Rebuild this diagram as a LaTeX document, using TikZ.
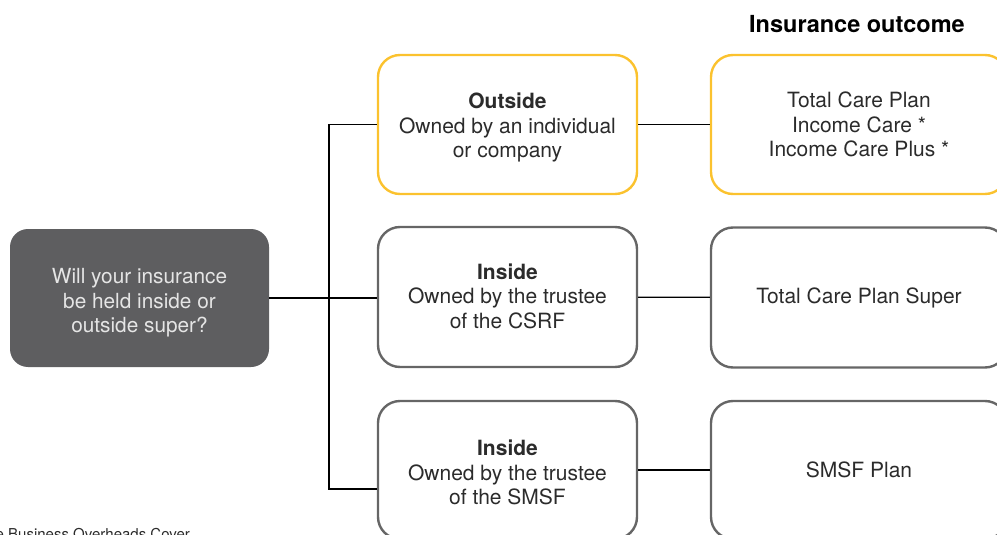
\documentclass[tikz,border=0pt]{standalone}
\usepackage{fontspec}
\setmainfont{TeX Gyre Heros}

\definecolor{slate}{HTML}{5E5E60}
\definecolor{amber}{HTML}{FBC22E}
\definecolor{edge}{HTML}{666666}
\definecolor{ink}{HTML}{2B2B2B}

\tikzset{
	boxtext/.style={align=center, text=ink, font=\fontsize{21}{24.5}\selectfont},
	choicebox/.style={draw, line width=2.4pt, rounded corners=22pt, minimum width=259pt, boxtext},
	outcomebox/.style={choicebox, minimum width=296pt},
	link/.style={line width=1.3pt, black}
}

\begin{document}
\begin{tikzpicture}[x=1pt, y=-1pt]
		\clip (0, 0) rectangle (997, 535);
		\useasboundingbox (0, 0) rectangle (997, 535);

		\node[fill=slate, rounded corners=18pt, minimum width=259pt, minimum height=138pt,
			label={[boxtext, text=white!90!black, font=\fontsize{20.8}{24.5}\selectfont, yshift=-5pt]center:{Will your insurance\\be held inside or\\outside super?}}] (question) at (139.5, 298) {};

		\node[choicebox, draw=amber, minimum height=139pt,
			label={[boxtext, yshift=-3pt]center:{\textbf{Outside}\\Owned by an individual\\or company}}] (outside) at (507.5, 124.5) {};
		\node[choicebox, draw=edge, minimum height=140pt,
			label={[boxtext, yshift=1pt]center:{\textbf{Inside}\\Owned by the trustee\\of the CSRF}}] (csrf) at (507.5, 297) {};
		\node[choicebox, draw=edge, minimum height=138pt,
			label={[boxtext, yshift=-2.5pt]center:{\textbf{Inside}\\Owned by the trustee\\of the SMSF}}] (smsf) at (507.5, 470) {};

		\node[outcomebox, draw=amber, minimum height=139pt] (careplan) at (859, 124.5) {Total Care Plan\\Income Care *\\Income Care Plus *};
		\node[outcomebox, draw=edge, minimum height=140pt] (superplan) at (859, 297.5) {Total Care Plan Super};
		\node[outcomebox, draw=edge, minimum height=138pt] (smsfplan) at (859, 470) {SMSF Plan};

		\node[font=\fontsize{23.5}{28}\selectfont\bfseries, text=black] (outcome) at (857, 24) {Insurance outcome};
		\node[anchor=base west, inner sep=0pt, font=\fontsize{15}{17}\selectfont, text=ink] (note) at (-4.5, 539) {e Business Overheads Cover};

		% tree on the left
		\coordinate (trunk) at (329, 0);
		\coordinate (smsfin) at ([yshift=-19pt]smsf.west);
		\draw[link] (question.east |- 0, 298) -- (csrf.west |- 0, 298);
		\draw[link] (outside.west) -- (outside.west -| trunk) -- (smsfin -| trunk) -- (smsfin);

		% outcomes
		\draw[link] (outside) -- (careplan);
		\draw[link] (csrf) -- (superplan);
		\draw[link] (smsf) -- (smsfplan);
	\end{tikzpicture}
\end{document}
